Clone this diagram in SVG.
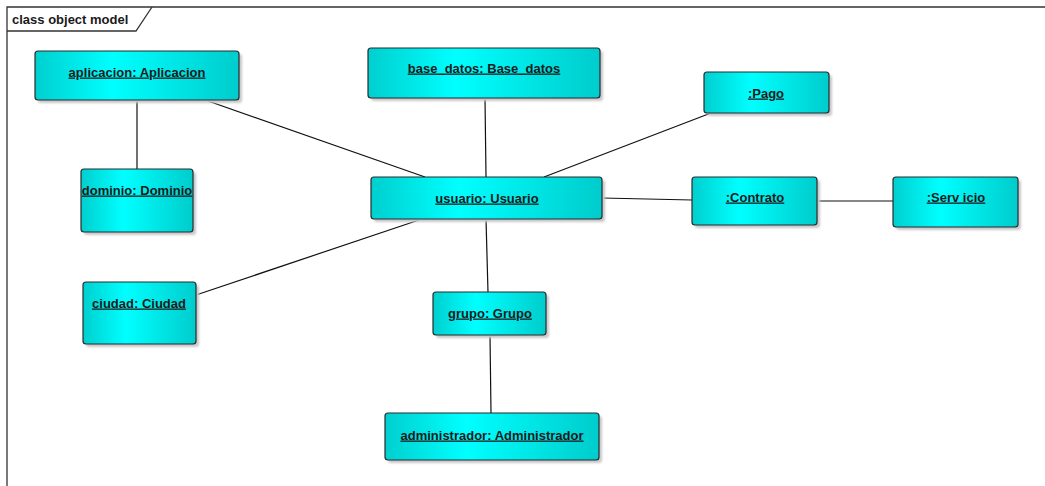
<svg xmlns="http://www.w3.org/2000/svg" width="1045" height="486" viewBox="0 0 1045 486">
  <defs>
    <linearGradient id="cyanFill" x1="0" y1="0" x2="1" y2="0">
      <stop offset="0" stop-color="#00CFCF"/>
      <stop offset="0.38" stop-color="#00FFFF"/>
      <stop offset="1" stop-color="#00CCCC"/>
    </linearGradient>
    <filter id="soft" x="-10%" y="-10%" width="130%" height="140%">
      <feGaussianBlur stdDeviation="1"/>
    </filter>
  </defs>
  <style>
    .frame { fill: none; stroke: #333333; stroke-width: 1.3; }
    .frame-title { font-family: "Liberation Sans", Arial, sans-serif; font-size: 13px; font-weight: bold; fill: #1a1a1a; }
    .shadow { fill: #c8c8cc; filter: url(#soft); }
    .box { fill: url(#cyanFill); stroke: #2a2a2a; stroke-width: 1.2; }
    .label { font-family: "Liberation Sans", Arial, sans-serif; font-size: 13px; font-weight: bold; fill: #1a1a1a; text-anchor: middle; text-decoration: underline; }
    .link { stroke: #111111; stroke-width: 1.2; fill: none; }
  </style>

  <rect width="1045" height="486" fill="#ffffff"/>

  <!-- diagram frame with title tab -->
  <g id="frame">
    <path class="frame" d="M7,486 V7 H1045"/>
    <path class="frame" d="M7,31 H136 L152,7"/>
    <text class="frame-title" x="12" y="24">class object model</text>
  </g>

  <!-- links between objects -->
  <g id="connectors">
    <line class="link" x1="137" y1="100" x2="137" y2="169"/>
    <line class="link" x1="208" y1="101" x2="425" y2="177"/>
    <line class="link" x1="485" y1="98" x2="486" y2="177"/>
    <line class="link" x1="711" y1="113" x2="544" y2="177"/>
    <line class="link" x1="602" y1="198" x2="692" y2="200"/>
    <line class="link" x1="817" y1="201" x2="893" y2="201"/>
    <line class="link" x1="422" y1="219" x2="196" y2="295"/>
    <line class="link" x1="486" y1="219" x2="488" y2="292"/>
    <line class="link" x1="490" y1="335" x2="491" y2="413"/>
  </g>

  <g id="aplicacion">
    <rect class="shadow" x="38" y="54" width="204" height="49" rx="3"/>
    <rect class="box" x="35" y="51" width="204" height="49" rx="3"/>
    <text class="label" x="137" y="76.5">aplicacion: Aplicacion</text>
  </g>

  <g id="base_datos">
    <rect class="shadow" x="371" y="51" width="232" height="50" rx="3"/>
    <rect class="box" x="368" y="48" width="232" height="50" rx="3"/>
    <text class="label" x="484" y="72.5">base_datos: Base_datos</text>
  </g>

  <g id="pago">
    <rect class="shadow" x="707" y="75" width="125" height="41" rx="3"/>
    <rect class="box" x="704" y="72" width="125" height="41" rx="3"/>
    <text class="label" x="766" y="97.5">:Pago</text>
  </g>

  <g id="dominio">
    <rect class="shadow" x="84" y="172" width="112" height="63" rx="3"/>
    <rect class="box" x="81" y="169" width="112" height="63" rx="3"/>
    <text class="label" x="137" y="194.5">dominio: Dominio</text>
  </g>

  <g id="usuario">
    <rect class="shadow" x="374" y="180" width="231" height="42" rx="3"/>
    <rect class="box" x="371" y="177" width="231" height="42" rx="3"/>
    <text class="label" x="487" y="202.5">usuario: Usuario</text>
  </g>

  <g id="contrato">
    <rect class="shadow" x="695" y="180" width="125" height="48" rx="3"/>
    <rect class="box" x="692" y="177" width="125" height="48" rx="3"/>
    <text class="label" x="755" y="201.5">:Contrato</text>
  </g>

  <g id="servicio">
    <rect class="shadow" x="896" y="180" width="125" height="50" rx="3"/>
    <rect class="box" x="893" y="177" width="125" height="50" rx="3"/>
    <text class="label" x="956" y="201.5">:Serv icio</text>
  </g>

  <g id="ciudad">
    <rect class="shadow" x="86" y="285" width="113" height="62" rx="3"/>
    <rect class="box" x="83" y="282" width="113" height="62" rx="3"/>
    <text class="label" x="139" y="307.5">ciudad: Ciudad</text>
  </g>

  <g id="grupo">
    <rect class="shadow" x="436" y="295" width="113" height="43" rx="3"/>
    <rect class="box" x="433" y="292" width="113" height="43" rx="3"/>
    <text class="label" x="490" y="317.5">grupo: Grupo</text>
  </g>

  <g id="administrador">
    <rect class="shadow" x="388" y="416" width="214" height="47" rx="3"/>
    <rect class="box" x="385" y="413" width="214" height="47" rx="3"/>
    <text class="label" x="492" y="439.5">administrador: Administrador</text>
  </g>
</svg>
